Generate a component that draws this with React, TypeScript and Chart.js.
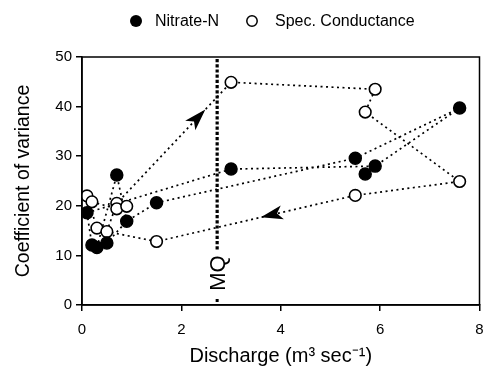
import React, { useEffect, useRef } from "react";
import { Chart, registerables } from "chart.js";

Chart.register(...registerables);

// ---- data ----
const nitrateQ = [0.1, 0.2, 0.3, 0.5, 0.7, 0.9, 1.5, 3.0, 5.5, 5.7, 5.9, 7.6];
const nitrateCV = [18.6, 12.1, 11.6, 12.5, 26.2, 16.9, 20.6, 27.4, 29.6, 26.4, 28.0, 39.7];
const condQ = [0.1, 0.2, 0.3, 0.5, 0.7, 0.7, 0.9, 1.5, 3.0, 5.5, 5.7, 5.9, 7.6];
const condCV = [22.0, 20.8, 15.5, 14.8, 20.5, 19.4, 19.9, 12.8, 44.9, 22.1, 38.9, 43.5, 24.9];

// dotted connections (indices into the series above)
const nitratePaths = [
  [0, 7, 10, 11, 8, 6, 5, 3],
  [2, 4, 5],
  [0, 1],
];
const condPaths = [
  [3, 4, 8, 11, 10, 12, 9, 7, 3],
  [0, 2, 3],
  [1, 5, 6],
];
// arrows on conductance segments: [fromIndex, toIndex, fraction]
const condArrows = [
  [4, 8, 0.775],
  [9, 7, 0.475],
];

const mqDischarge = 2.72;
const mqLabel = "MQ";
const legendLabels = ["Nitrate-N", "Spec. Conductance"];
const xTitle = "Discharge (m\u00B3 sec\u207B\u00B9)";
const yTitle = "Coefficient of variance";
const xMin = 0, xMax = 8, xStep = 2;
const yMin = 0, yMax = 50, yStep = 10;

const FONT = "'Liberation Sans', Arial, Helvetica, sans-serif";

const pts = (xs: number[], ys: number[]) => xs.map((x, i) => ({ x, y: ys[i] }));

export default function App() {
  const ref = useRef<HTMLCanvasElement | null>(null);

  useEffect(() => {
    if (!ref.current) return;
    Chart.defaults.font.family = FONT;
    Chart.defaults.color = "#000";

    const lineDs = (xs: number[], ys: number[], path: number[]) => ({
      type: "scatter" as const,
      data: path.map((i) => ({ x: xs[i], y: ys[i] })),
      showLine: true,
      borderColor: "#000",
      borderWidth: 1.7,
      borderDash: [2, 3.5],
      pointRadius: 0,
      pointHoverRadius: 0,
      fill: false,
      order: 2,
    });

    const datasets: any[] = [
      {
        label: legendLabels[0],
        data: pts(nitrateQ, nitrateCV),
        backgroundColor: "#000",
        borderColor: "#000",
        borderWidth: 1.5,
        pointRadius: 6,
        order: 0,
      },
      {
        label: legendLabels[1],
        data: pts(condQ, condCV),
        backgroundColor: "#fff",
        borderColor: "#000",
        borderWidth: 1.6,
        pointRadius: 5.8,
        order: 0,
      },
      ...nitratePaths.map((p) => lineDs(nitrateQ, nitrateCV, p)),
      ...condPaths.map((p) => lineDs(condQ, condCV, p)),
    ];

    const decor = {
      id: "decor",
      beforeDatasetsDraw(chart: any) {
        const { ctx, chartArea, scales } = chart;
        const xs = scales.x;
        ctx.save();
        // MQ line
        const mx = xs.getPixelForValue(mqDischarge);
        ctx.strokeStyle = "#000";
        ctx.lineWidth = 3.2;
        ctx.setLineDash([3.2, 2]);
        ctx.beginPath();
        ctx.moveTo(mx, chartArea.top + 2);
        ctx.lineTo(mx, chartArea.bottom - 54);
        ctx.stroke();
        ctx.setLineDash([]);
        ctx.fillStyle = "#000";
        ctx.fillRect(mx - 1.5, chartArea.bottom - 6, 3, 3);
        ctx.translate(mx + 1, chartArea.bottom - 32);
        ctx.rotate(-Math.PI / 2);
        ctx.font = "22px " + FONT;
        ctx.textAlign = "center";
        ctx.textBaseline = "middle";
        ctx.fillText(mqLabel, 0, 1);
        ctx.restore();
      },
      afterDatasetsDraw(chart: any) {
        const { ctx, scales } = chart;
        const xs = scales.x, ys = scales.y;
        ctx.save();
        ctx.fillStyle = "#000";
        condArrows.forEach(([a, b, t]) => {
          const x0 = xs.getPixelForValue(condQ[a]);
          const y0 = ys.getPixelForValue(condCV[a]);
          const x1 = xs.getPixelForValue(condQ[b]);
          const y1 = ys.getPixelForValue(condCV[b]);
          const dx = x1 - x0, dy = y1 - y0;
          const len = Math.hypot(dx, dy);
          const ux = dx / len, uy = dy / len;
          const tx = x0 + dx * t, ty = y0 + dy * t;
          const L = 22, W = 7;
          const bx = tx - ux * L, by = ty - uy * L;
          const nx = -uy, ny = ux;
          ctx.beginPath();
          ctx.moveTo(tx, ty);
          ctx.lineTo(bx + nx * W, by + ny * W);
          ctx.lineTo(tx - ux * L * 0.75, ty - uy * L * 0.75);
          ctx.lineTo(bx - nx * W, by - ny * W);
          ctx.closePath();
          ctx.fill();
        });
        ctx.restore();
      },
      afterDraw(chart: any) {
        const { ctx, chartArea } = chart;
        ctx.save();
        ctx.strokeStyle = "#000";
        ctx.lineWidth = 1.5;
        ctx.strokeRect(chartArea.left, chartArea.top, chartArea.right - chartArea.left, chartArea.bottom - chartArea.top);
        // legend
        const ly = 21;
        ctx.font = "16px " + FONT;
        ctx.textBaseline = "middle";
        ctx.textAlign = "left";
        ctx.fillStyle = "#000";
        ctx.beginPath();
        ctx.arc(136, ly, 6, 0, Math.PI * 2);
        ctx.fill();
        ctx.fillText(legendLabels[0], 155, ly + 1);
        ctx.beginPath();
        ctx.arc(252, ly, 5.2, 0, Math.PI * 2);
        ctx.fillStyle = "#fff";
        ctx.fill();
        ctx.lineWidth = 1.5;
        ctx.stroke();
        ctx.fillStyle = "#000";
        ctx.fillText(legendLabels[1], 275, ly + 1);
        ctx.restore();
      },
    };

    const chart = new Chart(ref.current, {
      type: "scatter",
      data: { datasets },
      options: {
        responsive: false,
        animation: false,
        events: [],
        layout: { padding: { top: 57, right: 6, left: 0, bottom: 0 } },
        plugins: { legend: { display: false }, tooltip: { enabled: false } },
        scales: {
          x: {
            type: "linear",
            min: xMin,
            max: xMax,
            ticks: { stepSize: xStep, font: { size: 15 }, color: "#000", padding: 10 },
            grid: { drawOnChartArea: false, drawTicks: true, tickLength: 6, color: "#000", lineWidth: 1.5 },
            border: { display: true, color: "#000", width: 1.5 },
            title: { display: true, text: xTitle, font: { size: 20, lineHeight: 1.2 }, color: "#000", padding: { top: 0, bottom: 0 } },
            afterFit: (s: any) => { s.height = 63; s.paddingLeft = 0; s.paddingRight = 0; },
          },
          y: {
            type: "linear",
            min: yMin,
            max: yMax,
            ticks: { stepSize: yStep, font: { size: 15 }, color: "#000", padding: 4 },
            grid: { drawOnChartArea: false, drawTicks: true, tickLength: 6, color: "#000", lineWidth: 1.5 },
            border: { display: true, color: "#000", width: 1.5 },
            title: { display: true, text: yTitle, font: { size: 19.5, lineHeight: 1.2 }, color: "#000", padding: { top: 12, bottom: 0 } },
            afterFit: (s: any) => { s.width = 82; s.paddingTop = 0; s.paddingBottom = 0; },
          },
        },
      },
      plugins: [decor],
    } as any);

    return () => chart.destroy();
  }, []);

  return (
    <div style={{ position: "fixed", left: 0, top: 0, width: 487, height: 368, background: "#fff" }}>
      <canvas ref={ref} width={487} height={368} style={{ width: 487, height: 368 }} />
    </div>
  );
}
